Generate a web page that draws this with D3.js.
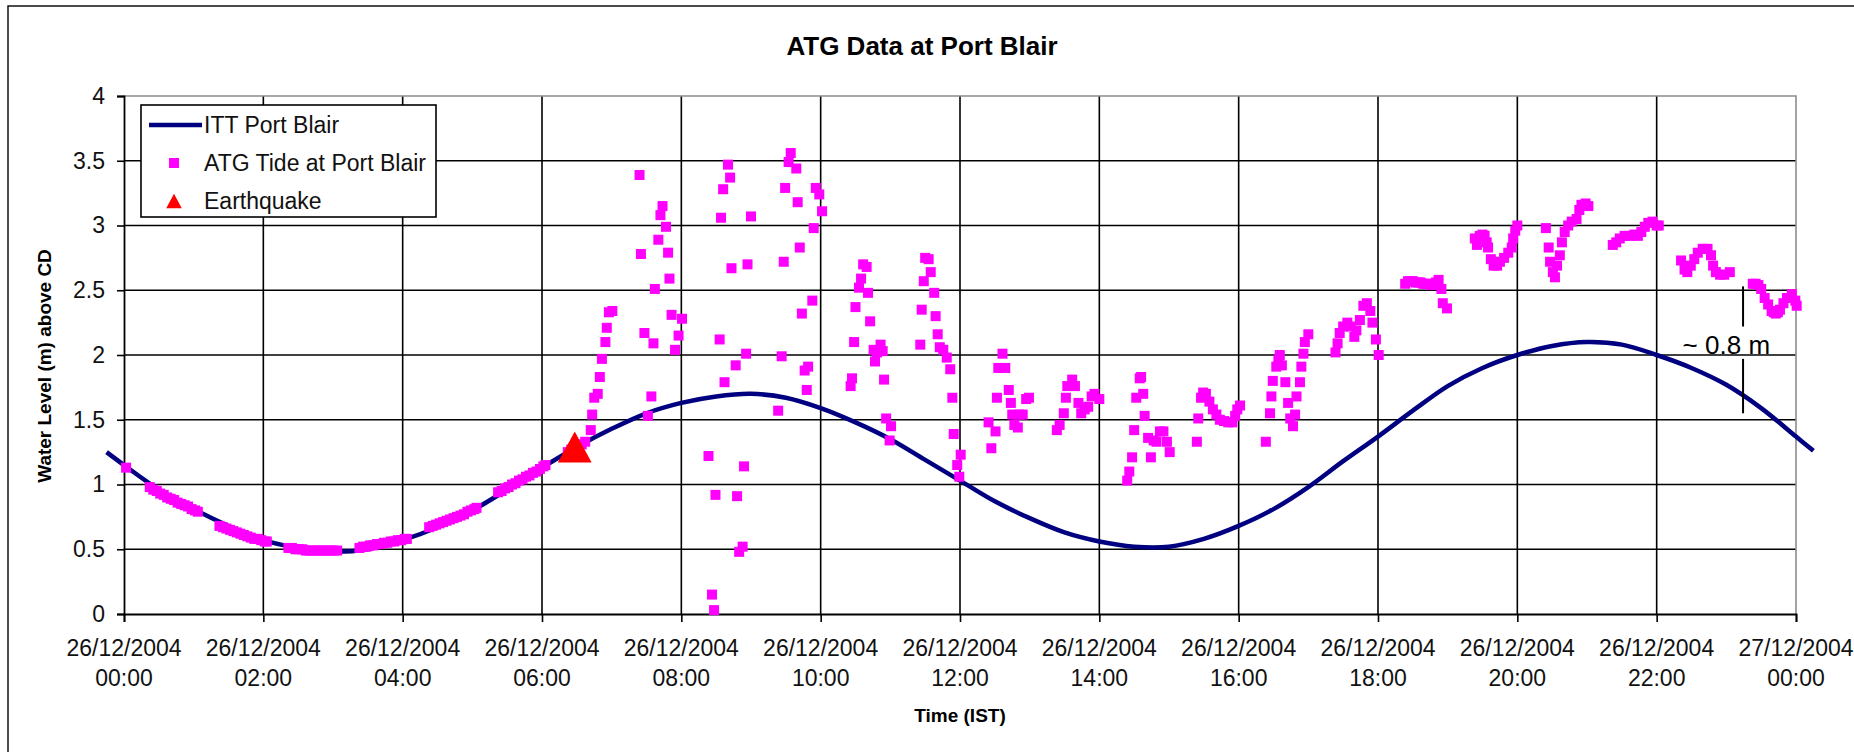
<!DOCTYPE html>
<html>
<head>
<meta charset="utf-8">
<script src="https://cdn.jsdelivr.net/npm/d3@7.9.0/dist/d3.min.js"></script>
<style>
body { margin: 0; background: #fff; }
svg { display: block; font-family: "Liberation Sans", Arial, sans-serif; }
</style>
</head>
<body>
<svg id="chart" width="1854" height="752"></svg>
<script>
// axis ticks
const xTickHours = [0, 2, 4, 6, 8, 10, 12, 14, 16, 18, 20, 22, 24];
const xTickDates = ['26/12/2004', '26/12/2004', '26/12/2004', '26/12/2004', '26/12/2004', '26/12/2004',
    '26/12/2004', '26/12/2004', '26/12/2004', '26/12/2004', '26/12/2004', '26/12/2004', '27/12/2004'];
const xTickTimes = ['00:00', '02:00', '04:00', '06:00', '08:00', '10:00', '12:00',
    '14:00', '16:00', '18:00', '20:00', '22:00', '00:00'];
const yTicks = [0, 0.5, 1, 1.5, 2, 2.5, 3, 3.5, 4];

// ITT predicted tide (hours after 26/12 00:00, metres above CD)
const ittHours = [-0.25, 0, 0.5, 1, 1.5, 2, 2.5, 3, 3.5, 4, 4.5, 5, 5.5, 6, 6.5, 7, 7.5, 8, 8.5, 9, 9.5,
    10, 10.5, 11, 11.5, 12, 12.5, 13, 13.5, 14, 14.5, 15, 15.5, 16, 16.5, 17, 17.5, 18, 18.5, 19, 19.5,
    20, 20.5, 21, 21.5, 22, 22.5, 23, 23.5, 24, 24.25];
const ittLevels = [1.25, 1.15, 0.96, 0.81, 0.68, 0.57, 0.51, 0.48, 0.50, 0.57, 0.67, 0.80, 0.96, 1.13, 1.29,
    1.43, 1.55, 1.63, 1.68, 1.70, 1.67, 1.59, 1.48, 1.35, 1.19, 1.03, 0.87, 0.74, 0.63, 0.56, 0.52, 0.52,
    0.58, 0.68, 0.81, 0.98, 1.18, 1.37, 1.57, 1.76, 1.90, 2.00, 2.07, 2.10, 2.08, 2.00, 1.90, 1.77, 1.59,
    1.37, 1.26];

// ATG gauge readings before the earthquake [hour, level]
const atgBeforeQuake = [
    [0.03, 1.13],
    [0.37, 0.98], [0.42, 0.96], [0.47, 0.95], [0.52, 0.93], [0.57, 0.92], [0.62, 0.90], [0.67, 0.89],
    [0.72, 0.88], [0.77, 0.86], [0.82, 0.85], [0.87, 0.84], [0.92, 0.83], [0.97, 0.81], [1.02, 0.80], [1.06, 0.79],
    [1.37, 0.68], [1.42, 0.67], [1.47, 0.66], [1.52, 0.65], [1.57, 0.64], [1.62, 0.63], [1.67, 0.62],
    [1.72, 0.61], [1.77, 0.60], [1.82, 0.59], [1.87, 0.58], [1.92, 0.58], [1.97, 0.57], [2.02, 0.56], [2.05, 0.56],
    [2.36, 0.51], [2.41, 0.51], [2.46, 0.50], [2.51, 0.50], [2.56, 0.50], [2.61, 0.49], [2.66, 0.49],
    [2.71, 0.49], [2.76, 0.49], [2.81, 0.49], [2.86, 0.49], [2.91, 0.49], [2.96, 0.49], [3.01, 0.49], [3.06, 0.49],
    [3.38, 0.51], [3.43, 0.52], [3.48, 0.52], [3.53, 0.53], [3.58, 0.53], [3.63, 0.54], [3.68, 0.54],
    [3.73, 0.55], [3.78, 0.55], [3.83, 0.56], [3.88, 0.56], [3.93, 0.57], [3.98, 0.57], [4.03, 0.58], [4.06, 0.58],
    [4.38, 0.67], [4.43, 0.68], [4.48, 0.69], [4.53, 0.70], [4.58, 0.71], [4.63, 0.72], [4.68, 0.73],
    [4.73, 0.74], [4.78, 0.75], [4.83, 0.76], [4.88, 0.77], [4.93, 0.79], [4.98, 0.80], [5.03, 0.81], [5.06, 0.82],
    [5.37, 0.94], [5.42, 0.95], [5.47, 0.97], [5.52, 0.98], [5.57, 1.00], [5.62, 1.01], [5.67, 1.03],
    [5.72, 1.04], [5.77, 1.06], [5.82, 1.07], [5.87, 1.09], [5.92, 1.10], [5.97, 1.12], [6.02, 1.14], [6.05, 1.15],
    [6.37, 1.25], [6.42, 1.27]
];

// ATG gauge readings after the earthquake [hour, level]
const atgAfterQuake = [
    [6.47, 1.28], [6.52, 1.30], [6.57, 1.31], [6.62, 1.33], [6.70, 1.42], [6.72, 1.54], [6.75, 1.67],
    [6.80, 1.70], [6.83, 1.83], [6.86, 1.97], [6.91, 2.10], [6.93, 2.21], [6.96, 2.33], [7.01, 2.34],
    [7.40, 3.39], [7.42, 2.78], [7.47, 2.17], [7.52, 1.53], [7.57, 1.68], [7.60, 2.09], [7.62, 2.51],
    [7.67, 2.89], [7.70, 3.08], [7.73, 3.15], [7.78, 2.99], [7.81, 2.79], [7.83, 2.59], [7.86, 2.31],
    [7.91, 2.04], [7.96, 2.15], [8.01, 2.28],
    [8.39, 1.22], [8.44, 0.15], [8.47, 0.03], [8.49, 0.92], [8.55, 2.12], [8.57, 3.06], [8.60, 3.28],
    [8.62, 1.79], [8.67, 3.47], [8.70, 3.37], [8.72, 2.67], [8.78, 1.92], [8.80, 0.91], [8.83, 0.48],
    [8.88, 0.52], [8.90, 1.14], [8.93, 2.01], [8.95, 2.70], [9.00, 3.07],
    [9.39, 1.57], [9.44, 1.99], [9.47, 2.72], [9.49, 3.29], [9.54, 3.49], [9.57, 3.56], [9.65, 3.44],
    [9.67, 3.18], [9.70, 2.83], [9.73, 2.32], [9.77, 1.88], [9.80, 1.73], [9.82, 1.91], [9.88, 2.42],
    [9.90, 2.98], [9.93, 3.29], [9.98, 3.24], [10.02, 3.11],
    [10.43, 1.76], [10.45, 1.82], [10.48, 2.10], [10.50, 2.37], [10.55, 2.52], [10.58, 2.59], [10.61, 2.70],
    [10.66, 2.68], [10.68, 2.48], [10.71, 2.26], [10.76, 2.04], [10.78, 1.95], [10.81, 2.02], [10.86, 2.08],
    [10.89, 2.03], [10.91, 1.81], [10.94, 1.51], [10.99, 1.34], [11.01, 1.45],
    [11.43, 2.08], [11.45, 2.35], [11.48, 2.57], [11.50, 2.75], [11.55, 2.74], [11.58, 2.64], [11.63, 2.48],
    [11.65, 2.30], [11.68, 2.16], [11.71, 2.06], [11.76, 2.04], [11.81, 1.98], [11.86, 1.89], [11.89, 1.67],
    [11.91, 1.39], [11.96, 1.15], [11.99, 1.06], [12.01, 1.23],
    [12.41, 1.48], [12.45, 1.28], [12.51, 1.41], [12.53, 1.67], [12.55, 1.90], [12.61, 2.01], [12.65, 1.90],
    [12.70, 1.73], [12.73, 1.63], [12.75, 1.54], [12.78, 1.46], [12.83, 1.44], [12.85, 1.54], [12.90, 1.54],
    [12.95, 1.66], [12.99, 1.67],
    [13.39, 1.42], [13.43, 1.46], [13.49, 1.55], [13.52, 1.67], [13.54, 1.76], [13.61, 1.81], [13.65, 1.76],
    [13.70, 1.63], [13.74, 1.55], [13.79, 1.58], [13.84, 1.60], [13.89, 1.68], [13.93, 1.70], [14.00, 1.66],
    [14.40, 1.03], [14.43, 1.10], [14.47, 1.21], [14.50, 1.42], [14.53, 1.67], [14.58, 1.82], [14.60, 1.83],
    [14.63, 1.70], [14.65, 1.53], [14.70, 1.36], [14.74, 1.21], [14.78, 1.34], [14.82, 1.33], [14.87, 1.41],
    [14.92, 1.41], [14.97, 1.33], [15.01, 1.25],
    [15.40, 1.33], [15.42, 1.51], [15.46, 1.67], [15.49, 1.71], [15.53, 1.70], [15.58, 1.64], [15.63, 1.58],
    [15.68, 1.54], [15.73, 1.50], [15.79, 1.49], [15.85, 1.48], [15.91, 1.48], [15.95, 1.53], [15.98, 1.58],
    [16.02, 1.61],
    [16.39, 1.33], [16.45, 1.55], [16.47, 1.68], [16.49, 1.80], [16.54, 1.91], [16.57, 1.96], [16.59, 2.00],
    [16.62, 1.92], [16.67, 1.79], [16.71, 1.63], [16.74, 1.51], [16.78, 1.45], [16.81, 1.54], [16.83, 1.68],
    [16.88, 1.79], [16.90, 1.91], [16.93, 2.01], [16.95, 2.10], [17.00, 2.16],
    [17.39, 2.02], [17.42, 2.09], [17.45, 2.17], [17.50, 2.22], [17.56, 2.25], [17.61, 2.22], [17.66, 2.14],
    [17.69, 2.19], [17.74, 2.27], [17.79, 2.38], [17.84, 2.40], [17.89, 2.34], [17.92, 2.25], [17.97, 2.12],
    [18.01, 2.00],
    [18.39, 2.55], [18.43, 2.57], [18.46, 2.57], [18.50, 2.57], [18.54, 2.56], [18.58, 2.56], [18.61, 2.56],
    [18.65, 2.55], [18.68, 2.55], [18.72, 2.55], [18.76, 2.54], [18.79, 2.54], [18.83, 2.56], [18.87, 2.58],
    [18.91, 2.51], [18.93, 2.40], [18.99, 2.36],
    [19.39, 2.90], [19.42, 2.85], [19.46, 2.92], [19.50, 2.93], [19.53, 2.92], [19.56, 2.87], [19.58, 2.83],
    [19.62, 2.74], [19.66, 2.69], [19.71, 2.69], [19.75, 2.72], [19.81, 2.75], [19.87, 2.79], [19.92, 2.83],
    [19.94, 2.90], [19.97, 2.96], [20.00, 3.00],
    [20.41, 2.98], [20.45, 2.83], [20.47, 2.72], [20.51, 2.64], [20.54, 2.60], [20.57, 2.69], [20.61, 2.77],
    [20.64, 2.87], [20.68, 2.95], [20.73, 3.00], [20.78, 3.03], [20.85, 3.05], [20.89, 3.12], [20.92, 3.16],
    [20.98, 3.17], [21.02, 3.15],
    [21.37, 2.85], [21.42, 2.87], [21.47, 2.90], [21.54, 2.92], [21.61, 2.92], [21.68, 2.93], [21.73, 2.92],
    [21.78, 2.95], [21.83, 2.99], [21.88, 3.02], [21.94, 3.03], [22.00, 3.00], [22.03, 3.00],
    [22.35, 2.73], [22.40, 2.66], [22.44, 2.64], [22.49, 2.69], [22.54, 2.74], [22.59, 2.79], [22.66, 2.82],
    [22.73, 2.82], [22.78, 2.77], [22.81, 2.69], [22.85, 2.64], [22.91, 2.62], [22.97, 2.62], [23.05, 2.64],
    [23.38, 2.55], [23.42, 2.55], [23.46, 2.54], [23.50, 2.51], [23.55, 2.44], [23.60, 2.39], [23.65, 2.34],
    [23.68, 2.33], [23.71, 2.32], [23.74, 2.33], [23.77, 2.35], [23.82, 2.40], [23.87, 2.44], [23.94, 2.47],
    [23.99, 2.42], [24.01, 2.38]
];

// earthquake at 06:28 IST
const quake = [[6.47, 1.29]];

const legendLabels = ['ITT Port Blair', 'ATG Tide at Port Blair', 'Earthquake'];

const navy = '#000080';
const magenta = '#ff00ff';
const quakeRed = '#ff0000';

const svg = d3.select('#chart');
const plot = { left: 124, right: 1796, top: 96, bottom: 614 };

const x = d3.scaleLinear().domain([0, 24]).range([plot.left, plot.right]);
const y = d3.scaleLinear().domain([0, 4]).range([plot.bottom, plot.top]);

// triangle marker centred on its bounding box
const triangleBox = {
    draw(context, size) {
        const w = Math.sqrt(size * 2.2);
        const h = w * 0.92;
        context.moveTo(0, -h / 2);
        context.lineTo(w / 2, h / 2);
        context.lineTo(-w / 2, h / 2);
        context.closePath();
    }
};

// chart frame (right and bottom fall outside the picture)
svg.append('rect')
    .attr('x', 8).attr('y', 6)
    .attr('width', 1900).attr('height', 800)
    .attr('fill', 'none').attr('stroke', '#000').attr('stroke-width', 1.4);

// gridlines
svg.append('g')
    .selectAll('line')
    .data(yTicks.slice(1, -1))
    .join('line')
    .attr('x1', plot.left).attr('x2', plot.right)
    .attr('y1', d => y(d)).attr('y2', d => y(d))
    .attr('stroke', '#000').attr('stroke-width', 1.6);

svg.append('g')
    .selectAll('line')
    .data(xTickHours.slice(1, -1))
    .join('line')
    .attr('x1', d => x(d)).attr('x2', d => x(d))
    .attr('y1', plot.top).attr('y2', plot.bottom)
    .attr('stroke', '#000').attr('stroke-width', 1.6);

// grey top / right edges of plot area
svg.append('path')
    .attr('d', `M${plot.left},${plot.top}H${plot.right}V${plot.bottom}`)
    .attr('fill', 'none').attr('stroke', '#8c8c8c').attr('stroke-width', 1.6);

// axes
const yAxis = svg.append('g')
    .attr('transform', `translate(${plot.left},0)`)
    .call(d3.axisLeft(y).tickValues(yTicks).tickSize(7).tickPadding(12).tickFormat(d3.format('~g')));

const xAxis = svg.append('g')
    .attr('transform', `translate(0,${plot.bottom})`)
    .call(d3.axisBottom(x).tickValues(xTickHours).tickSize(8).tickFormat(''));

[yAxis, xAxis].forEach(g => {
    g.select('.domain').attr('stroke', '#000').attr('stroke-width', 1.8);
    g.selectAll('.tick line').attr('stroke', '#000').attr('stroke-width', 1.6);
});
yAxis.selectAll('.tick text')
    .attr('font-size', 23).attr('fill', '#111')
    .attr('font-family', '"Liberation Sans", Arial, sans-serif');

xTickHours.forEach((h, i) => {
    const t = svg.append('text')
        .attr('text-anchor', 'middle')
        .attr('font-size', 23)
        .attr('fill', '#111');
    t.append('tspan').attr('x', x(h)).attr('y', 656).text(xTickDates[i]);
    t.append('tspan').attr('x', x(h)).attr('y', 686).text(xTickTimes[i]);
});

// titles
svg.append('text')
    .attr('x', 922).attr('y', 55)
    .attr('text-anchor', 'middle')
    .attr('font-size', 26).attr('font-weight', 'bold')
    .text('ATG Data at Port Blair');

svg.append('text')
    .attr('x', (plot.left + plot.right) / 2).attr('y', 722)
    .attr('text-anchor', 'middle')
    .attr('font-size', 19).attr('font-weight', 'bold')
    .text('Time (IST)');

svg.append('text')
    .attr('transform', `translate(51,366) rotate(-90)`)
    .attr('text-anchor', 'middle')
    .attr('font-size', 19).attr('font-weight', 'bold')
    .text('Water Level (m) above CD');

// ITT predicted tide line
const ittData = ittHours.map((h, i) => [h, ittLevels[i]]);
const line = d3.line()
    .x(d => x(d[0]))
    .y(d => y(d[1]))
    .curve(d3.curveCatmullRom.alpha(0.5));

svg.append('path')
    .datum(ittData)
    .attr('d', line)
    .attr('fill', 'none')
    .attr('stroke', navy)
    .attr('stroke-width', 4.5);

// ATG tide squares
svg.append('g')
    .selectAll('rect')
    .data(atgBeforeQuake.concat(atgAfterQuake))
    .join('rect')
    .attr('x', d => x(d[0]) - 5)
    .attr('y', d => y(d[1]) - 5)
    .attr('width', 10).attr('height', 10)
    .attr('fill', magenta);

// earthquake marker
svg.append('g')
    .selectAll('path')
    .data(quake)
    .join('path')
    .attr('transform', d => `translate(${x(d[0])},${y(d[1])})`)
    .attr('d', d3.symbol(triangleBox, 520))
    .attr('fill', quakeRed);

// ~0.8 m offset annotation
svg.append('line')
    .attr('x1', x(23.24)).attr('x2', x(23.24))
    .attr('y1', y(2.53)).attr('y2', y(2.22))
    .attr('stroke', '#000').attr('stroke-width', 2);
svg.append('line')
    .attr('x1', x(23.24)).attr('x2', x(23.24))
    .attr('y1', y(1.97)).attr('y2', y(1.55))
    .attr('stroke', '#000').attr('stroke-width', 2);
svg.append('text')
    .attr('x', x(23.0)).attr('y', y(2.08))
    .attr('dy', '0.35em')
    .attr('text-anchor', 'middle')
    .attr('font-size', 26)
    .text('~ 0.8 m');

// legend
const legend = svg.append('g');
legend.append('rect')
    .attr('x', 141).attr('y', 105)
    .attr('width', 295).attr('height', 112)
    .attr('fill', '#fff').attr('stroke', '#000').attr('stroke-width', 1.6);

legendLabels.forEach((label, i) => {
    const cy = 125 + i * 38;
    if (i === 0) {
        legend.append('line')
            .attr('x1', 149).attr('x2', 202)
            .attr('y1', cy).attr('y2', cy)
            .attr('stroke', navy).attr('stroke-width', 4.5);
    } else if (i === 1) {
        legend.append('rect')
            .attr('x', 169).attr('y', cy - 5)
            .attr('width', 10).attr('height', 10)
            .attr('fill', magenta);
    } else {
        legend.append('path')
            .attr('transform', `translate(174,${cy})`)
            .attr('d', d3.symbol(triangleBox, 110))
            .attr('fill', quakeRed);
    }
    legend.append('text')
        .attr('x', 204).attr('y', cy)
        .attr('dy', '0.36em')
        .attr('font-size', 23)
        .attr('fill', '#111')
        .text(label);
});
</script>
</body>
</html>
